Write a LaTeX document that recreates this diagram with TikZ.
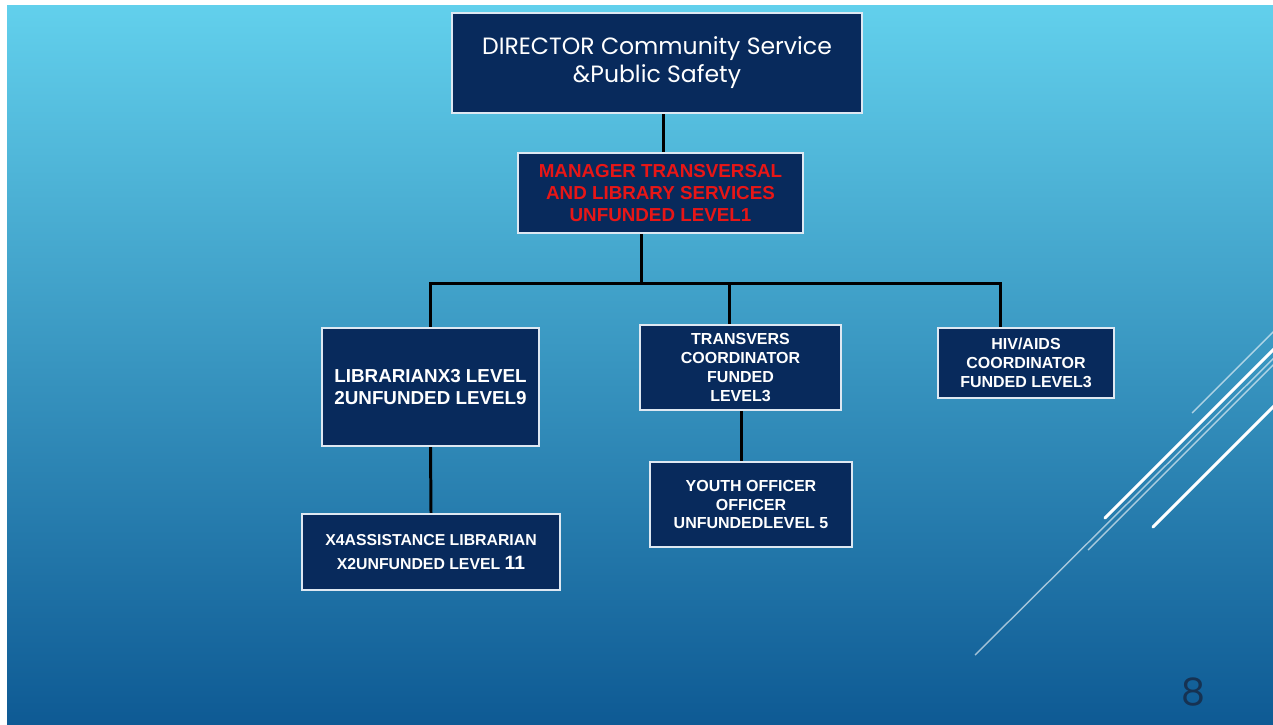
\documentclass[tikz,border=0pt]{standalone}
\usepackage{fontspec}
\setmainfont{Liberation Sans}
\newfontfamily\gothic{Poppins}
\usepackage{tikz}

\definecolor{skytop}{RGB}{98,208,236}
\definecolor{skybot}{RGB}{14,90,148}
\definecolor{boxblue}{RGB}{8,42,92}
\definecolor{boxline}{RGB}{222,232,242}
\definecolor{mgrred}{RGB}{232,22,22}
\definecolor{pagenum}{RGB}{22,50,82}

\begin{document}
\begin{tikzpicture}[x=0.02cm,y=-0.02cm,
  post/.style={draw=boxline,line width=1.2pt,fill=boxblue,text=white,
    align=center,inner sep=2pt,font=\bfseries\fontsize{10.7}{12.5}\selectfont},
  smallpost/.style={post,font=\bfseries\fontsize{9.1}{10.8}\selectfont},
  link/.style={line width=1.7pt,black},
  streak/.style={white,line width=1.7pt,line cap=round},
  thinstreak/.style={white,opacity=0.6,line width=0.8pt}]
\useasboundingbox (0,0) rectangle (1273,724);
%bakgrunn
\fill[white] (0,0) rectangle (1273,724);
\shade[top color=skytop,bottom color=skybot] (7,5) rectangle (1273,724);
\begin{scope}
\clip (7,5) rectangle (1273,724);
\draw[thinstreak] (1192,413)--(1290,315);
\draw[streak] (1105,518)--(1290,333);
\draw[thinstreak] (1088,550)--(1290,348);
\draw[thinstreak] (975,655)--(1290,342);
\draw[streak] (1153,527)--(1290,390);
\end{scope}
\node[text=pagenum] (page) at (1193,692) {\gothic\fontsize{21.5}{24}\selectfont 8};
%bokser
\node[post,minimum width=8.2cm,minimum height=2cm,
  font=\gothic\fontsize{13.4}{16}\selectfont] (dir) at (657,63)
  {DIRECTOR Community Service\\ \&Public Safety};
\node[post,minimum width=5.7cm,minimum height=1.6cm,text=mgrred] (mgr) at (660.5,193)
  {MANAGER TRANSVERSAL\\AND LIBRARY SERVICES\\UNFUNDED LEVEL1};
\node[post,minimum width=4.34cm,minimum height=2.36cm] (lib) at (430.5,387)
  {LIBRARIANX3 LEVEL\\2UNFUNDED LEVEL9};
\node[smallpost,minimum width=4.02cm,minimum height=1.7cm] (trans) at (740.5,367.5)
  {TRANSVERS\\COORDINATOR\\FUNDED\\LEVEL3};
\node[smallpost,minimum width=3.52cm,minimum height=1.4cm] (hiv) at (1026,363)
  {HIV/AIDS\\COORDINATOR\\FUNDED LEVEL3};
\node[smallpost,minimum width=4.04cm,minimum height=1.7cm] (youth) at (751,504.5)
  {YOUTH OFFICER\\OFFICER\\UNFUNDEDLEVEL 5};
\node[smallpost,minimum width=5.16cm,minimum height=1.52cm,
  font=\bfseries\fontsize{9}{13.6}\selectfont] (asst) at (431,552)
  {X4ASSISTANCE LIBRARIAN\\X2UNFUNDED LEVEL {\fontsize{11}{13.6}\selectfont 11}};
%linjer
\coordinate (top) at (663,0);
\coordinate (bus) at (641,283);
\coordinate (tdrop) at (729,0);
\coordinate (hdrop) at (1000,0);
\coordinate (ydrop) at (741,0);
\draw[link] (dir.south -| top)--(mgr.north -| top);
\draw[link] (mgr.south -| bus)--(bus);
\draw[link] (lib.north) |- (bus) -| (hiv.north -| hdrop);
\draw[link] (bus -| tdrop)--(trans.north -| tdrop);
\draw[link] (trans.south -| ydrop)--(youth.north -| ydrop);
\draw[link] (lib.south)--(asst.north);
\end{tikzpicture}
\end{document}
